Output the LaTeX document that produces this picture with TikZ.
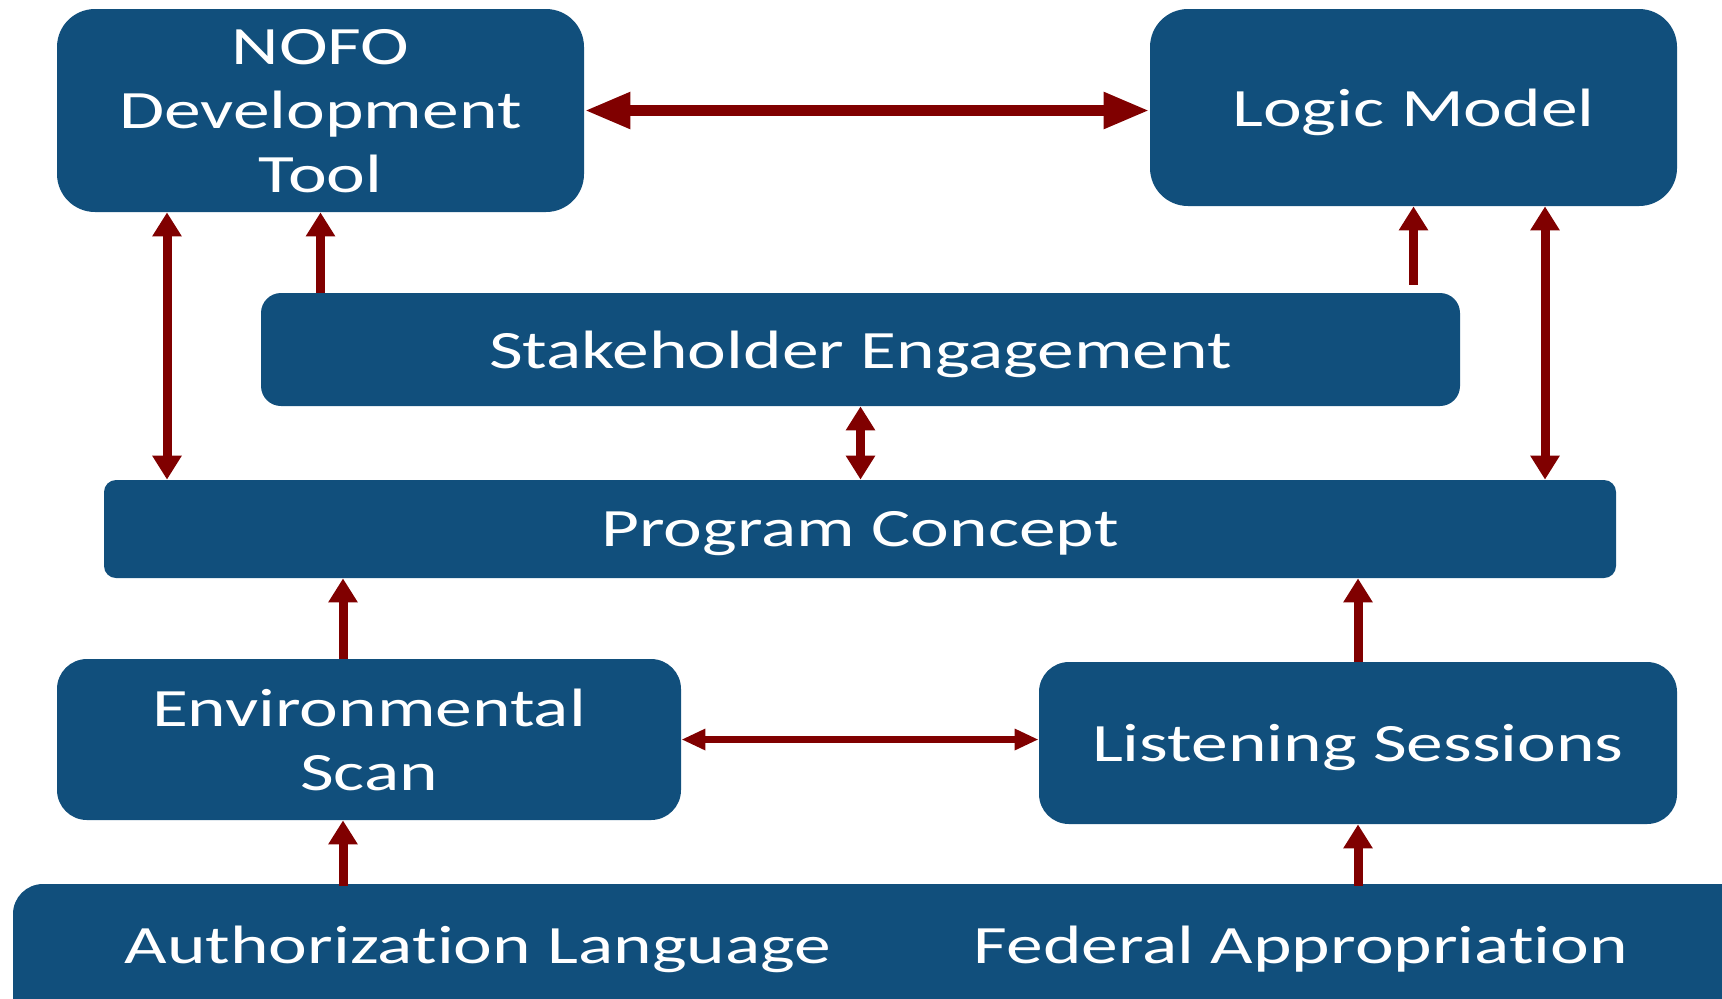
\documentclass[tikz,border=0pt]{standalone}
\usepackage{fontspec}
\setmainfont{Carlito}[FakeStretch=1.36, Ligatures=NoCommon]
\usetikzlibrary{arrows.meta, positioning}
\definecolor{boxblue}{RGB}{17,79,124}
\definecolor{arrowred}{RGB}{128,0,0}
\tikzstyle{process} = [rectangle, draw=none, fill=boxblue, text=white, align=center, inner sep=0pt, text depth=0pt, font=\fontsize{27pt}{32pt}\selectfont]
\tikzstyle{label_text} = [draw=none, text=white, inner sep=0pt, text depth=0pt, font=\fontsize{27pt}{32pt}\selectfont]
\tikzstyle{arrow} = [draw=arrowred, line width=4.5pt, -{Triangle[width=14pt,length=12pt]}]
\tikzstyle{arrow_both} = [draw=arrowred, line width=4.5pt, {Triangle[width=14pt,length=12pt]}-{Triangle[width=14pt,length=12pt]}]
\tikzstyle{arrow_top} = [draw=arrowred, line width=5.5pt, {Triangle[width=17pt,length=23pt]}-{Triangle[width=17pt,length=23pt]}]
\tikzstyle{arrow_mid} = [draw=arrowred, line width=3.5pt, {Triangle[width=10pt,length=12pt]}-{Triangle[width=10pt,length=12pt]}]

\begin{document}
\begin{tikzpicture}[x=0.5pt, y=-0.5pt]
	\useasboundingbox (0,0) rectangle (1722,998);
	\clip (0,0) rectangle (1722,998);

	\node (nofo_tool) [process, rounded corners=19pt, minimum width=263.5pt, minimum height=101.5pt] at (320.5,110.5) {NOFO\\Development\\Tool};
	\node (logic_model) [process, rounded corners=19pt, minimum width=263.5pt, minimum height=98.5pt] at (1413.5,107.5) {Logic Model};
	\node (stake_eng) [process, rounded corners=10pt, minimum width=599.5pt, minimum height=56.5pt] at (860.5,349.5) {Stakeholder Engagement};
	\node (prog_concept) [process, rounded corners=6pt, minimum width=756pt, minimum height=49pt] at (860,529) {Program Concept};
	\node (env_scan) [process, rounded corners=15pt, minimum width=312pt, minimum height=80.5pt] at (369,739.5) {Environmental\\Scan};
	\node (listen_sess) [process, rounded corners=15pt, minimum width=319pt, minimum height=81pt] at (1358,743) {Listening Sessions};
	\node (base_bar) [process, rounded corners=15pt, minimum width=873.5pt, minimum height=78pt] at (886.5,962) {};
	\node (auth_lang) [label_text] at (478,945) {Authorization Language};
	\node (fed_approp) [label_text] at (1301,945) {Federal Appropriation};

	% x positions of the off-centre arrows
	\coordinate (left_x) at (167,0);
	\coordinate (right_x) at (1545,0);
	\coordinate (env_x) at (343,0);

	\draw [arrow_top] (nofo_tool.east) -- (nofo_tool.east -| logic_model.west);
	\draw [arrow_both] (nofo_tool.south -| left_x) -- (prog_concept.north -| left_x);
	\draw [arrow] (stake_eng.north -| nofo_tool.south) -- (nofo_tool.south);
	\draw [arrow] ([yshift=4pt]stake_eng.north -| logic_model.south) -- (logic_model.south);
	\draw [arrow_both] (logic_model.south -| right_x) -- (prog_concept.north -| right_x);
	\draw [arrow_both] (stake_eng.south) -- (prog_concept.north -| stake_eng.south);
	\draw [arrow] (env_scan.north -| env_x) -- (prog_concept.south -| env_x);
	\draw [arrow] (listen_sess.north) -- (prog_concept.south -| listen_sess.north);
	\draw [arrow_mid] (env_scan.east) -- (env_scan.east -| listen_sess.west);
	\draw [arrow] ([yshift=-1pt]base_bar.north -| env_x) -- (env_scan.south -| env_x);
	\draw [arrow] ([yshift=-1pt]base_bar.north -| listen_sess.south) -- (listen_sess.south);
\end{tikzpicture}
\end{document}
